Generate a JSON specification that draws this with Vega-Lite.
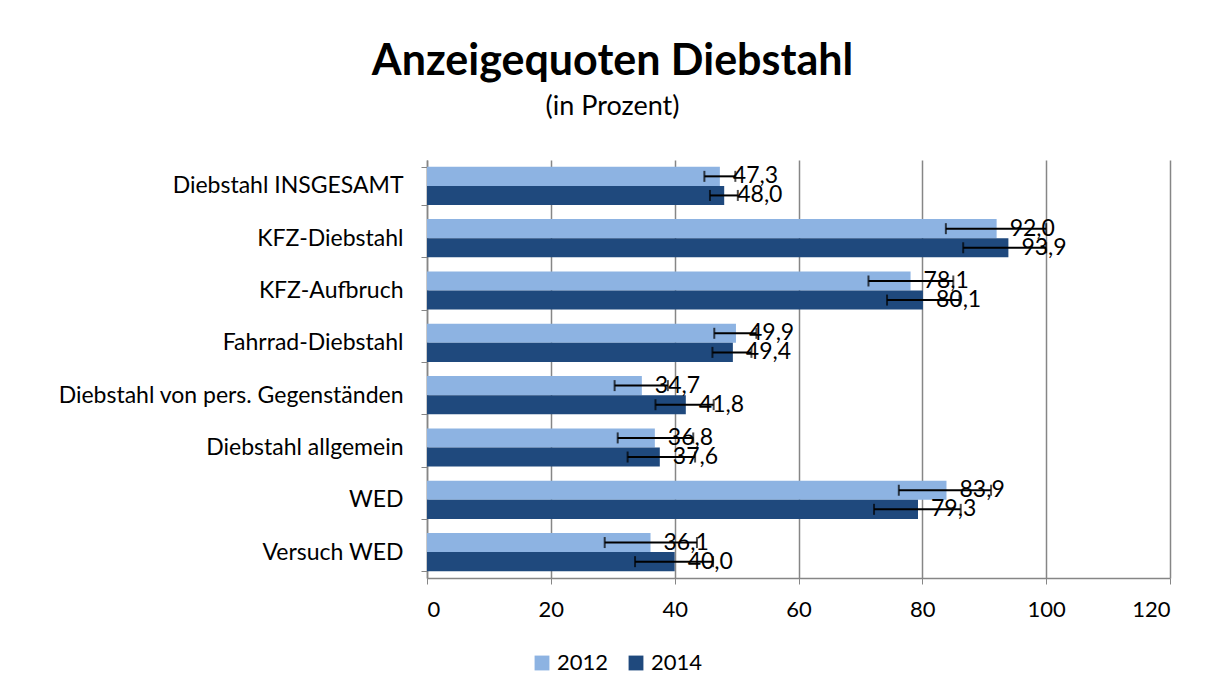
{
  "$schema": "https://vega.github.io/schema/vega-lite/v6.json",
  "width": 743,
  "height": 418,
  "autosize": "none",
  "padding": {"left": 427, "top": 160, "right": 44, "bottom": 119},
  "background": "white",
  "title": {
    "text": "Anzeigequoten Diebstahl",
    "subtitle": "(in Prozent)",
    "anchor": "middle",
    "dx": -186,
    "offset": 29,
    "font": "Lato",
    "fontSize": 43,
    "fontWeight": "bold",
    "color": "black",
    "subtitleFont": "Lato",
    "subtitleFontSize": 27,
    "subtitleColor": "black",
    "subtitlePadding": 10
  },
  "config": {
    "locale": {"number": {"decimal": ",", "thousands": ".", "grouping": [3], "currency": ["", " €"]}},
    "view": {"stroke": null},
    "font": "Lato"
  },
  "data": {
    "values": [
      {"cat": "Diebstahl INSGESAMT", "year": "2012", "value": 47.3, "lo": 44.8, "hi": 49.8},
      {"cat": "Diebstahl INSGESAMT", "year": "2014", "value": 48.0, "lo": 45.7, "hi": 50.2},
      {"cat": "KFZ-Diebstahl", "year": "2012", "value": 92.0, "lo": 83.8, "hi": 100.0},
      {"cat": "KFZ-Diebstahl", "year": "2014", "value": 93.9, "lo": 86.6, "hi": 100.0},
      {"cat": "KFZ-Aufbruch", "year": "2012", "value": 78.1, "lo": 71.3, "hi": 85.0},
      {"cat": "KFZ-Aufbruch", "year": "2014", "value": 80.1, "lo": 74.3, "hi": 86.0},
      {"cat": "Fahrrad-Diebstahl", "year": "2012", "value": 49.9, "lo": 46.4, "hi": 53.2},
      {"cat": "Fahrrad-Diebstahl", "year": "2014", "value": 49.4, "lo": 46.1, "hi": 52.4},
      {"cat": "Diebstahl von pers. Gegenständen", "year": "2012", "value": 34.7, "lo": 30.3, "hi": 38.9},
      {"cat": "Diebstahl von pers. Gegenständen", "year": "2014", "value": 41.8, "lo": 36.9, "hi": 46.3},
      {"cat": "Diebstahl allgemein", "year": "2012", "value": 36.8, "lo": 30.8, "hi": 43.0},
      {"cat": "Diebstahl allgemein", "year": "2014", "value": 37.6, "lo": 32.4, "hi": 43.3},
      {"cat": "WED", "year": "2012", "value": 83.9, "lo": 76.2, "hi": 91.1},
      {"cat": "WED", "year": "2014", "value": 79.3, "lo": 72.2, "hi": 86.2},
      {"cat": "Versuch WED", "year": "2012", "value": 36.1, "lo": 28.7, "hi": 43.6},
      {"cat": "Versuch WED", "year": "2014", "value": 40.0, "lo": 33.6, "hi": 46.2}
    ]
  },
  "encoding": {
    "y": {
      "field": "cat",
      "type": "nominal",
      "sort": null,
      "scale": {"paddingInner": 0.27, "paddingOuter": 0.13},
      "axis": {
        "title": null,
        "labelFont": "Lato",
        "labelFontSize": 23,
        "labelLimit": 0,
        "labelColor": "black",
        "labelPadding": 18,
        "tickBand": "extent",
        "tickColor": "#868686",
        "tickSize": 6,
        "domainColor": "#868686",
        "domainWidth": 1.5,
        "grid": false
      }
    },
    "yOffset": {"field": "year", "type": "nominal", "sort": ["2012", "2014"]}
  },
  "layer": [
    {
      "mark": {"type": "bar"},
      "encoding": {
        "x": {
          "field": "value",
          "type": "quantitative",
          "scale": {"domain": [0, 120], "nice": false},
          "axis": {
            "title": null,
            "values": [0, 20, 40, 60, 80, 100, 120],
            "grid": true,
            "gridColor": "#868686",
            "gridWidth": 1.5,
            "domainColor": "#868686",
            "domainWidth": 1.5,
            "tickColor": "#868686",
            "tickSize": 6,
            "labelFont": "Lato",
            "labelFontSize": 22,
            "labelColor": "black",
            "labelPadding": 15,
            "format": "d"
          }
        },
        "color": {
          "field": "year",
          "type": "nominal",
          "scale": {"domain": ["2012", "2014"], "range": ["#8DB3E2", "#1F497D"]},
          "legend": {
            "title": null,
            "orient": "none",
            "legendX": 104,
            "legendY": 492,
            "direction": "horizontal",
            "symbolType": "square",
            "symbolSize": 220,
            "symbolStrokeWidth": 0,
            "labelFont": "Lato",
            "labelFontSize": 22,
            "labelColor": "black",
            "columnPadding": 16
          }
        }
      }
    },
    {
      "mark": {"type": "rule", "color": "black", "strokeWidth": 2},
      "encoding": {
        "x": {"field": "lo", "type": "quantitative"},
        "x2": {"field": "hi"}
      }
    },
    {
      "mark": {"type": "tick", "color": "black", "thickness": 2, "size": 11},
      "encoding": {"x": {"field": "lo", "type": "quantitative"}}
    },
    {
      "mark": {"type": "tick", "color": "black", "thickness": 2, "size": 11},
      "encoding": {"x": {"field": "hi", "type": "quantitative"}}
    },
    {
      "mark": {"type": "text", "align": "left", "baseline": "middle", "dx": 13, "fontSize": 23, "font": "Lato", "color": "black"},
      "encoding": {
        "x": {"field": "value", "type": "quantitative"},
        "text": {"field": "value", "type": "quantitative", "format": ".1f"}
      }
    }
  ]
}
